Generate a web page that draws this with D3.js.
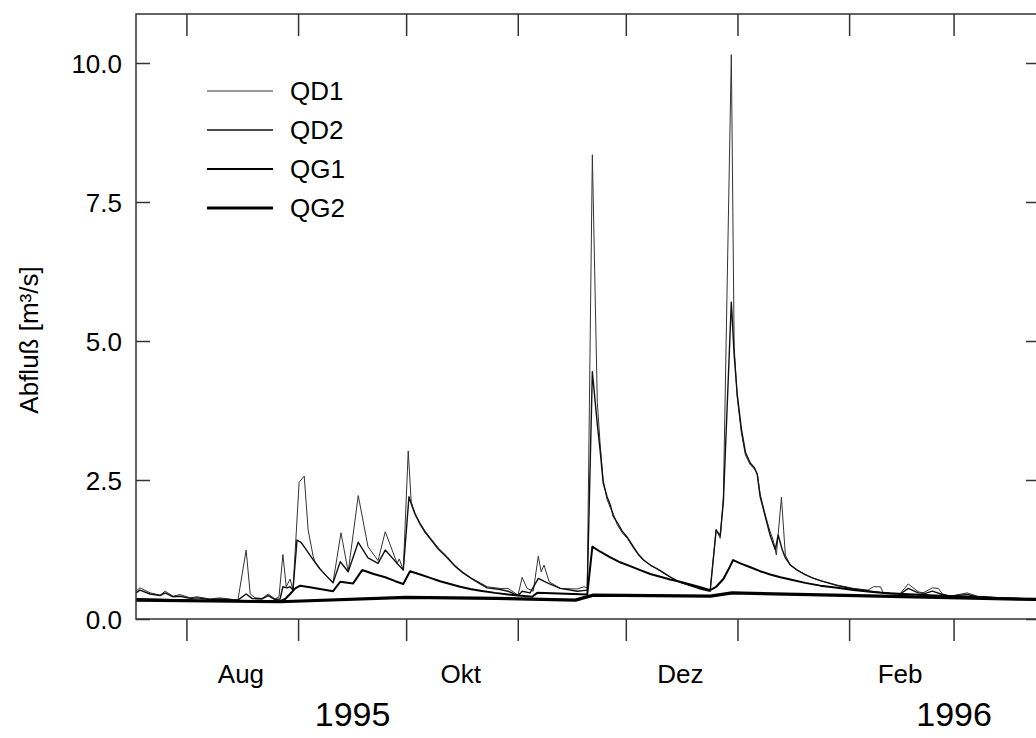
<!DOCTYPE html>
<html>
<head>
<meta charset="utf-8">
<script src="https://cdn.jsdelivr.net/npm/d3@7"></script>
<style>
  body { margin: 0; background: #fff; }
  svg { display: block; }
  text { font-family: "Liberation Sans", Arial, sans-serif; fill: #000; }
</style>
</head>
<body>
<svg id="chart" width="1036" height="738"></svg>
<script>
// days since 18 Jul 1995, discharge in m3/s
var qd1 = [[0,0.50],[1.1,0.56],[3.9,0.47],[6.7,0.43],[8.1,0.50],[10.3,0.41],[12.2,0.44],[15,0.38],[16.9,0.40],[20.6,0.36],[23.3,0.38],[28.3,0.34],[30.6,1.24],[31.7,0.45],[33.1,0.38],[35,0.37],[36.7,0.45],[38.6,0.36],[39.7,0.40],[40.8,1.16],[41.7,0.58],[42.8,0.72],[43.6,0.52],[45.3,2.46],[46.7,2.57],[47.8,1.6],[49.2,1.12],[49.7,1.03],[51.1,0.9],[52.8,0.78],[54.7,0.66],[56.9,1.55],[58.9,0.85],[61.7,2.22],[64.4,1.3],[67.2,1.05],[69.2,1.57],[72.5,1.0],[73.1,1.08],[74.2,0.88],[75.6,3.02],[76.4,2.1],[77.5,1.9],[78.9,1.72],[80.3,1.58],[81.7,1.46],[83.9,1.28],[86.4,1.12],[88.6,0.96],[90.8,0.84],[93.3,0.73],[95.6,0.65],[97.5,0.58],[101.1,0.55],[103.3,0.55],[106.1,0.43],[107.2,0.75],[108.6,0.55],[110.3,0.50],[111.7,1.13],[112.5,0.85],[113.3,0.97],[114.7,0.67],[117.8,0.55],[122.5,0.54],[124.4,0.58],[125.3,0.56],[126.7,8.35],[128.1,3.9],[128.9,3.1],[129.7,2.5],[130.8,2.15],[131.7,2.0],[132.5,1.9],[133.6,1.7],[135,1.55],[136.4,1.45],[138.1,1.28],[139.4,1.16],[140.8,1.06],[142.8,0.97],[144.2,0.92],[145.6,0.86],[148.3,0.75],[151.1,0.66],[153.9,0.6],[156.7,0.55],[159.4,0.52],[161.1,1.61],[162.2,1.45],[163.1,2.19],[165.3,10.15],[166.1,4.9],[166.9,4.0],[168.1,3.35],[169.2,2.95],[170.6,2.77],[171.7,2.7],[172.5,2.62],[173.3,2.25],[174.4,1.95],[175.3,1.74],[176.1,1.57],[176.9,1.42],[177.8,1.15],[179.2,2.19],[180.3,1.15],[181.7,0.97],[183.6,0.88],[185.8,0.8],[187.8,0.74],[190,0.69],[194.7,0.61],[199.2,0.55],[203.3,0.52],[204.7,0.58],[206.7,0.58],[207.5,0.47],[212.2,0.46],[214.4,0.63],[217.2,0.49],[218.6,0.47],[221.1,0.56],[222.8,0.55],[223.9,0.45],[226.1,0.41],[230.8,0.47],[233.6,0.41],[240.8,0.38],[251.1,0.36]];

var qd2 = [[0,0.47],[1.1,0.52],[3.9,0.45],[6.7,0.42],[8.1,0.47],[10.3,0.40],[12.2,0.41],[15,0.37],[16.9,0.38],[20.6,0.35],[23.3,0.36],[28.3,0.34],[30.6,0.45],[32.2,0.37],[35,0.36],[36.7,0.42],[38.6,0.35],[40,0.36],[40.8,0.58],[41.9,0.56],[42.8,0.58],[43.6,0.52],[44.7,1.42],[45.8,1.38],[46.9,1.28],[48.3,1.15],[49.7,1.02],[51.1,0.9],[52.8,0.78],[54.7,0.65],[56.7,1.03],[58.9,0.85],[61.7,1.38],[64.4,1.1],[67.2,1.0],[69.2,1.24],[72.5,1.0],[74.2,0.88],[75.8,2.2],[76.7,2.02],[77.5,1.88],[78.9,1.7],[80.3,1.56],[81.7,1.44],[83.9,1.26],[86.4,1.1],[88.6,0.95],[90.8,0.83],[93.3,0.72],[95.6,0.63],[97.5,0.56],[101.1,0.53],[103.3,0.50],[106.1,0.42],[107.2,0.50],[109.4,0.47],[111.7,0.73],[114.2,0.65],[117.8,0.55],[122.5,0.50],[125.3,0.52],[126.7,4.45],[127.5,3.9],[128.1,3.5],[128.9,3.0],[129.7,2.45],[130.8,2.2],[131.7,2.05],[132.5,1.85],[133.6,1.74],[135,1.58],[136.4,1.47],[138.1,1.3],[139.4,1.17],[140.8,1.07],[142.8,0.97],[144.2,0.92],[145.6,0.87],[148.3,0.76],[151.1,0.66],[153.9,0.6],[156.7,0.54],[159.4,0.50],[161.1,1.6],[162.2,1.5],[163.1,2.1],[165.3,5.7],[166.1,4.75],[166.9,4.05],[168.1,3.42],[169.2,3.0],[170.6,2.8],[171.7,2.72],[172.5,2.6],[173.3,2.2],[174.4,1.92],[175.3,1.7],[176.1,1.5],[176.9,1.35],[177.5,1.25],[178.3,1.51],[179.4,1.25],[180.3,1.1],[181.7,0.97],[183.6,0.88],[185.8,0.8],[187.8,0.74],[190,0.69],[194.7,0.6],[199.2,0.54],[203.9,0.5],[207.5,0.47],[212.2,0.45],[214.4,0.55],[217.2,0.47],[219.2,0.46],[221.1,0.5],[223.9,0.44],[226.1,0.41],[230.8,0.44],[233.6,0.40],[240.8,0.37],[251.1,0.36]];

var qg1 = [[0,0.36],[18,0.33],[40,0.32],[41.4,0.36],[42.8,0.45],[44.2,0.55],[45.6,0.6],[48.3,0.57],[51.1,0.54],[54.7,0.5],[56.7,0.67],[60.3,0.64],[62.8,0.88],[66,0.81],[69.2,0.75],[72,0.68],[74.2,0.63],[76.1,0.86],[78.9,0.8],[81.7,0.74],[84.4,0.68],[87.2,0.63],[90,0.58],[92.8,0.54],[95.6,0.51],[99.7,0.47],[104.7,0.43],[110,0.40],[111.4,0.47],[121.4,0.45],[125.3,0.44],[126.7,1.30],[128.9,1.21],[131.7,1.11],[134.4,1.02],[137.2,0.95],[140,0.88],[142.8,0.81],[145.6,0.76],[148.3,0.71],[151.1,0.67],[153.9,0.62],[156.7,0.57],[159.4,0.52],[161.1,0.58],[163.1,0.72],[164.4,0.88],[165.8,1.06],[167.8,1.0],[170.6,0.93],[173.3,0.86],[176.1,0.8],[178.9,0.75],[181.7,0.71],[185.8,0.65],[190,0.6],[194.7,0.56],[199.2,0.52],[203.9,0.49],[209.4,0.46],[213.1,0.45],[223.3,0.42],[237.2,0.38],[251.1,0.35]];

var qg2 = [[0,0.34],[40,0.31],[75,0.39],[100,0.37],[122,0.34],[127,0.43],[159.5,0.41],[165.5,0.47],[200,0.42],[251.1,0.35]];

var seriesNames = ["QD1", "QD2", "QG1", "QG2"];
var yTicks = [0, 2.5, 5, 7.5, 10];
var monthLabels = ["Aug", "Okt", "Dez", "Feb"];
var monthLabelDates = ["1995-08-16", "1995-10-16", "1995-12-16", "1996-02-15"];
var yearLabels = ["1995", "1996"];
var yearLabelDates = ["1995-09-16", "1996-03-01"];

var width = 1036, height = 738;
var plotLeft = 136, plotRight = 1040, plotTop = 14, plotBottom = 619;
var start = new Date(1995, 6, 18);
var end = new Date(1996, 2, 25);
var parse = d3.timeParse("%Y-%m-%d");

var svg = d3.select("#chart");

var x = d3.scaleTime().domain([start, end]).range([plotLeft, plotRight]);
var y = d3.scaleLinear().domain([0, 10]).range([plotBottom, 63]);

function dayDate(d) {
    return d3.timeHour.offset(start, Math.round(d * 24));
}

// clip to plot box
svg.append("clipPath").attr("id", "clip")
    .append("rect")
    .attr("x", plotLeft).attr("y", plotTop)
    .attr("width", plotRight - plotLeft).attr("height", plotBottom - plotTop);

var line = d3.line()
    .x(function (d) { return x(dayDate(d[0])); })
    .y(function (d) { return y(d[1]); });

var series = [qd1, qd2, qg1, qg2];
var widths = [1, 1.4, 2, 3.2];
var strokes = ["#333", "#111", "#000", "#000"];

var g = svg.append("g").attr("clip-path", "url(#clip)");
g.selectAll("path")
    .data(series)
    .enter()
    .append("path")
    .attr("fill", "none")
    .attr("stroke", function (d, i) { return strokes[i]; })
    .attr("stroke-width", function (d, i) { return widths[i]; })
    .attr("stroke-linejoin", "round")
    .attr("d", line);

// frame
svg.append("rect")
    .attr("x", plotLeft).attr("y", plotTop)
    .attr("width", plotRight - plotLeft).attr("height", plotBottom - plotTop)
    .attr("fill", "none")
    .attr("stroke", "#333")
    .attr("stroke-width", 1.5);

// month ticks, bottom (outside) and top (inside)
var monthAxis = d3.axisBottom(x)
    .ticks(d3.timeMonth.every(1))
    .tickFormat("")
    .tickSize(22)
    .tickSizeOuter(0);

svg.append("g").attr("class", "xaxis")
    .attr("transform", "translate(0," + plotBottom + ")")
    .call(monthAxis);
svg.append("g").attr("class", "xaxis")
    .attr("transform", "translate(0," + plotTop + ")")
    .call(monthAxis);

// month names
svg.append("g")
    .attr("transform", "translate(0," + (plotBottom + 41) + ")")
    .call(d3.axisBottom(x)
        .tickValues(monthLabelDates.map(parse))
        .tickFormat(function (d, i) { return monthLabels[i]; })
        .tickSize(0)
        .tickPadding(5))
    .attr("class", "mlab");

// years
svg.append("g")
    .attr("transform", "translate(0," + (plotBottom + 78) + ")")
    .call(d3.axisBottom(x)
        .tickValues(yearLabelDates.map(parse))
        .tickFormat(function (d, i) { return yearLabels[i]; })
        .tickSize(0)
        .tickPadding(5))
    .attr("class", "ylab");

// y axis left with labels, right without
svg.append("g").attr("class", "yaxis")
    .attr("transform", "translate(" + plotLeft + ",0)")
    .call(d3.axisLeft(y)
        .tickValues(yTicks)
        .tickFormat(d3.format(".1f"))
        .tickSize(-14)
        .tickSizeOuter(0)
        .tickPadding(14));
svg.append("g").attr("class", "yaxis")
    .attr("transform", "translate(" + plotRight + ",0)")
    .call(d3.axisLeft(y)
        .tickValues(yTicks)
        .tickFormat("")
        .tickSize(14)
        .tickSizeOuter(0));

svg.selectAll(".domain").remove();
svg.selectAll(".xaxis line, .yaxis line")
    .attr("stroke", "#333")
    .attr("stroke-width", 1.5);
svg.selectAll(".yaxis text, .mlab text")
    .style("font-size", "26px")
    .style("font-family", "'Liberation Sans', Arial, sans-serif")
    .attr("fill", "#000");
svg.selectAll(".yaxis text").attr("dy", "0.36em");
svg.selectAll(".ylab text")
    .style("font-size", "34px")
    .style("font-family", "'Liberation Sans', Arial, sans-serif")
    .attr("fill", "#000");

// y title
svg.append("text")
    .attr("transform", "translate(38,340) rotate(-90)")
    .attr("text-anchor", "middle")
    .style("font-size", "26px")
    .text("Abfluß [m³/s]");

// legend
var legend = svg.selectAll(".legend")
    .data(seriesNames)
    .enter()
    .append("g")
    .attr("class", "legend")
    .attr("transform", function (d, i) {
        return "translate(0," + (91 + i * 39) + ")";
    });

legend.append("line")
    .attr("x1", 207).attr("x2", 273)
    .attr("stroke", function (d, i) { return strokes[i]; })
    .attr("stroke-width", function (d, i) { return widths[i]; });

legend.append("text")
    .attr("x", 290)
    .attr("dy", "0.36em")
    .style("font-size", "26px")
    .text(function (d) { return d; });
</script>
</body>
</html>
